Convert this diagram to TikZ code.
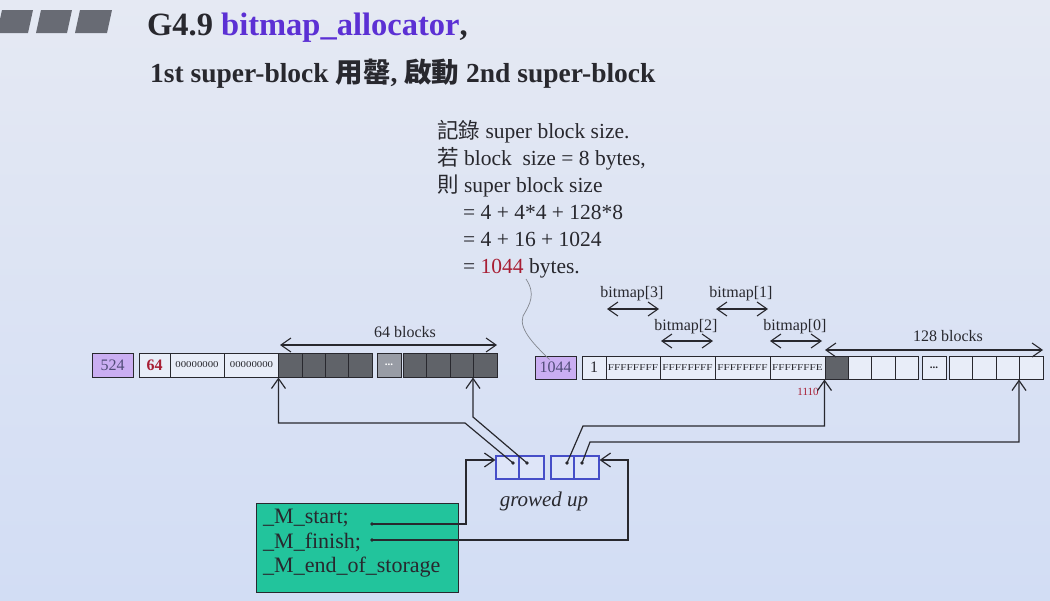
\documentclass[tikz,border=0pt]{standalone}
\usepackage{fontspec}
\usepackage{graphicx}
\setmainfont{Liberation Serif}
\newfontfamily\cjk{Noto Sans CJK TC}
\usetikzlibrary{arrows.meta}

\newcommand\myfs[1]{\fontsize{#1}{#1}\selectfont}

\definecolor{bgtop}{RGB}{229,233,243}
\definecolor{bgbot}{RGB}{210,221,244}
\definecolor{ink}{RGB}{40,40,46}
\definecolor{titlepurple}{RGB}{92,48,212}
\definecolor{superpurple}{RGB}{202,174,242}
\definecolor{purpletext}{RGB}{80,76,120}
\definecolor{darkcell}{RGB}{96,99,105}
\definecolor{dotcell}{RGB}{152,156,165}
\definecolor{numred}{RGB}{168,30,52}
\definecolor{ptrblue}{RGB}{70,78,200}
\definecolor{ptrfill}{RGB}{222,229,248}
\definecolor{memgreen}{RGB}{34,196,156}
\definecolor{bargrey}{RGB}{104,107,116}
\definecolor{curvegrey}{RGB}{130,134,142}

\tikzset{
  cell/.style={draw=ink, line width=1pt, inner sep=0pt, minimum height=23pt,
    fill=white, fill opacity=0.4, text opacity=1, text=ink},
  darkbox/.style={cell, fill=darkcell, fill opacity=1},
  ptrcell/.style={draw=ptrblue, line width=1.2pt, inner sep=0pt, minimum height=23pt,
    fill=ptrfill},
  ptrdot/.style={circle, fill=ink, inner sep=0pt, minimum size=3.6pt},
  conn/.style={draw=ink, line width=1.2pt, -{Straight Barb[length=10pt,width=14pt]}},
  dimarrow/.style={draw=ink, line width=1.1pt,
    {Straight Barb[length=10pt,width=14pt]}-{Straight Barb[length=10pt,width=14pt]}},
  lbl/.style={font=\myfs{16}, text=ink, inner sep=0pt},
  tiny/.style={font=\myfs{9}},
}

\begin{document}
\begin{tikzpicture}[x=1pt, y=-1pt]
  % slide background
  \useasboundingbox (0,0) rectangle (1050,600);
  \shade[top color=bgtop, bottom color=bgbot] (0,0) rectangle (1050,600);

  % header bars
  \fill[bargrey] (-3,33) -- (28,33) -- (33,10) -- (2,10) -- cycle;
  \fill[bargrey] (36,33) -- (67,33) -- (72,10) -- (41,10) -- cycle;
  \fill[bargrey] (75,33) -- (107,33) -- (112,10) -- (80,10) -- cycle;

  % headings
  \node[anchor=base west, inner sep=0pt, font=\bfseries\myfs{32.5}, text=ink] (title) at (147,35)
    {G4.9 \textcolor{titlepurple}{bitmap\_allocator},};
  \node[anchor=base west, inner sep=0pt, font=\bfseries\myfs{27.5}, text=ink] (subtitle) at (150,82)
    {1st super-block {\cjk 用罄}, {\cjk 啟動} 2nd super-block};

  % note on the super block size
  \node[anchor=north west, inner sep=0pt, align=left, text=ink,
        font=\fontsize{21.5}{27}\selectfont] (note) at (437,120)
    {{\cjk 記錄} super block size.\\
     {\cjk 若} block\ \ size = 8 bytes,\\
     {\cjk 則} super block size\\
     \hspace*{26pt}= 4 + 4*4 + 128*8\\
     \hspace*{26pt}= 4 + 16 + 1024\\
     \hspace*{26pt}= \textcolor{numred}{1044} bytes.};

  % ---- first super-block ----
  \node[cell, fill=superpurple, fill opacity=1, minimum width=41pt, minimum height=24pt,
        font=\myfs{16}, text=purpletext] (s524) at (112.5,365) {524};
  \node[cell, minimum width=31pt, minimum height=24pt, font=\bfseries\myfs{16},
        text=numred] (n64) at (154.5,365) {64};
  \node[cell, minimum width=54pt, minimum height=24pt, tiny] (z1) at (197,365) {\scalebox{1.2}[1]{00000000}};
  \node[cell, minimum width=55pt, minimum height=24pt, tiny] (z2) at (251.5,365) {\scalebox{1.2}[1]{00000000}};
  \node[darkbox, minimum width=23.25pt, minimum height=24pt] (d1) at (290.6,365) {};
  \node[darkbox, minimum width=23.25pt, minimum height=24pt] (d2) at (313.9,365) {};
  \node[darkbox, minimum width=23.25pt, minimum height=24pt] (d3) at (337.1,365) {};
  \node[darkbox, minimum width=23.25pt, minimum height=24pt] (d4) at (360.4,365) {};
  \node[cell, fill=dotcell, fill opacity=1, minimum width=24pt, minimum height=24pt,
        font=\bfseries\myfs{11}, text=white] (ldots) at (389,365) {...};
  \node[darkbox, minimum width=23.5pt, minimum height=24pt] (d5) at (414.75,365) {};
  \node[darkbox, minimum width=23.5pt, minimum height=24pt] (d6) at (438.25,365) {};
  \node[darkbox, minimum width=23.5pt, minimum height=24pt] (d7) at (461.75,365) {};
  \node[darkbox, minimum width=23.5pt, minimum height=24pt] (d8) at (485.25,365) {};

  \coordinate (b64l) at (280,345);
  \coordinate (b64r) at (497,345);
  \draw[dimarrow] (b64l) -- (b64r);
  \node[lbl] (l64) at (405,332) {64 blocks};

  % ---- second super-block ----
  \node[cell, fill=superpurple, fill opacity=1, minimum width=41pt,
        font=\myfs{16}, text=purpletext] (s1044) at (555.5,367.5) {1044};
  \node[cell, minimum width=24pt, font=\myfs{16}] (one) at (594,367.5) {1};
  \node[cell, minimum width=54pt, font=\myfs{9}] (f3) at (633,367.5) {\scalebox{1.25}[1]{FFFFFFFF}};
  \node[cell, minimum width=55pt, font=\myfs{9}] (f2) at (687.5,367.5) {\scalebox{1.25}[1]{FFFFFFFF}};
  \node[cell, minimum width=55pt, font=\myfs{9}] (f1) at (742.5,367.5) {\scalebox{1.25}[1]{FFFFFFFF}};
  \node[cell, minimum width=55pt, font=\myfs{9}] (f0) at (797.5,367.5) {\scalebox{1.25}[1]{FFFFFFFE}};
  \node[darkbox, minimum width=23pt] (g1) at (836.5,367.5) {};
  \node[cell, minimum width=23pt] (w1) at (859.5,367.5) {};
  \node[cell, minimum width=24pt] (w2) at (883,367.5) {};
  \node[cell, minimum width=23pt] (w3) at (906.5,367.5) {};
  \node[cell, minimum width=24pt, font=\bfseries\myfs{11}] (rdots) at (934,367.5) {...};
  \node[cell, minimum width=23.5pt] (w4) at (960.75,367.5) {};
  \node[cell, minimum width=23.5pt] (w5) at (984.25,367.5) {};
  \node[cell, minimum width=23.5pt] (w6) at (1007.75,367.5) {};
  \node[cell, minimum width=23.5pt] (w7) at (1031.25,367.5) {};

  % bitmap word markers
  \node[lbl] (bm3) at (632,294) {bitmap[3]};
  \node[lbl] (bm1) at (741,294) {bitmap[1]};
  \node[lbl] (bm2) at (686,327) {bitmap[2]};
  \node[lbl] (bm0) at (795,327) {bitmap[0]};
  \coordinate (a3l) at (607,309); \coordinate (a3r) at (659,309);
  \coordinate (a1l) at (716,309); \coordinate (a1r) at (768,309);
  \coordinate (a2l) at (661,341); \coordinate (a2r) at (713,341);
  \coordinate (a0l) at (770,341); \coordinate (a0r) at (822,341);
  \draw[dimarrow] (a3l) -- (a3r);
  \draw[dimarrow] (a1l) -- (a1r);
  \draw[dimarrow] (a2l) -- (a2r);
  \draw[dimarrow] (a0l) -- (a0r);

  \coordinate (b128l) at (825,350);
  \coordinate (b128r) at (1043,350);
  \draw[dimarrow] (b128l) -- (b128r);
  \node[lbl] (l128) at (948,336) {128 blocks};

  \node[font=\myfs{11}, text=numred, inner sep=0pt] (addr) at (808,392) {1110};

  % pointer from the size note to the 1044 field
  \coordinate (notetail) at (526,279);
  \draw[curvegrey, line width=0.7pt] (notetail) .. controls (536,294) and (530,304) .. (523,316)
    .. controls (518,330) and (538,348) .. ([xshift=15pt,yshift=-4pt]s1044.north west);

  % ---- pointer pairs ----
  \node[ptrcell, minimum width=23pt] (pa) at (507.5,467.5) {};
  \node[ptrcell, minimum width=25pt] (pb) at (531.5,467.5) {};
  \node[ptrcell, minimum width=23pt] (pc) at (562.5,467.5) {};
  \node[ptrcell, minimum width=25pt] (pd) at (586.5,467.5) {};
  \node[ptrdot] (da) at (513,463) {};
  \node[ptrdot] (db) at (527,463) {};
  \node[ptrdot] (dc) at (567,463) {};
  \node[ptrdot] (dd) at (582,463) {};
  \node[font=\itshape\myfs{21}, text=ink, inner sep=0pt] (grow) at (544,501) {growed up};

  \draw[conn] (da.center) -- (465,423) -| (d1.south west);
  \draw[conn] (db.center) -- (d8.south west |- 0,417) -- (d8.south west);
  \draw[conn] (dc.center) -- (583,426) -| (g1.south west);
  \draw[conn] (dd.center) -- (590,442) -| (w7.south west);

  % ---- vector members ----
  \node[draw=ink, line width=1pt, fill=memgreen, minimum width=202pt, minimum height=89pt,
        inner sep=0pt, anchor=north west] (mem) at (256,503) {};
  \node[anchor=north west, align=left, inner sep=0pt, text=ink,
        font=\fontsize{22}{24.5}\selectfont] (memtxt) at (263,509)
    {\_M\_start;\\ \_M\_finish;\\ \_M\_end\_of\_storage};
  \node[ptrdot] (ms) at (372,524) {};
  \node[ptrdot] (mf) at (372,540) {};

  \draw[conn] (ms.center) -- (466,524) |- (pa.west |- 0,460);
  \draw[conn] (mf.center) -- (628,540) |- (pd.east |- 0,460);
\end{tikzpicture}
\end{document}
